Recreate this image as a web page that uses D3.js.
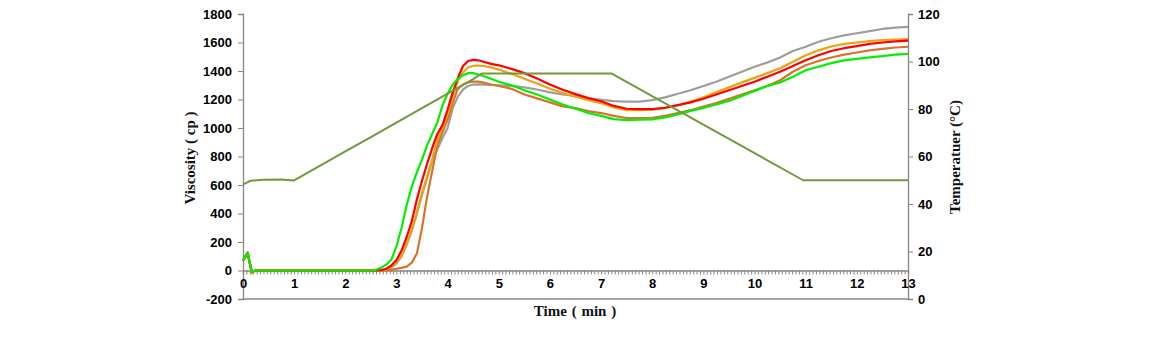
<!DOCTYPE html>
<html>
<head>
<meta charset="utf-8">
<script src="https://cdn.jsdelivr.net/npm/d3@7"></script>
<style>
  body { margin: 0; background: #fff; }
  svg { display: block; }
  .tick text { font-family: "Liberation Sans", Arial, sans-serif; font-weight: bold; font-size: 13px; fill: #000; }
  .title { font-family: "Liberation Serif", "Times New Roman", serif; font-weight: bold; font-size: 15px; fill: #111; }
</style>
</head>
<body>
<div id="chart"></div>
<script>
// time (min) shared by the viscosity curves
const time = [0, 0.09, 0.17, 0.25, 0.5, 1, 1.5, 2, 2.5, 2.6, 2.7, 2.8, 2.9,
  3.0, 3.1, 3.2, 3.3, 3.4, 3.5, 3.6, 3.7, 3.8, 3.9, 4.0, 4.1, 4.2, 4.3, 4.4, 4.5, 4.6, 4.7,
  4.85, 5.0, 5.25, 5.5, 5.75, 6.0, 6.25, 6.5, 6.75, 7.0, 7.25, 7.5, 7.75, 8.0, 8.25, 8.5,
  8.75, 9.0, 9.25, 9.5, 9.75, 10.0, 10.25, 10.5, 10.75, 11.0, 11.25, 11.5, 11.75, 12.0,
  12.25, 12.5, 12.75, 13.0];

// viscosity (cp)
const grayVisc = [70, 125, -8, 0, 0, 0, 0, 0, 0, 0, 0, 5, 20,
  50, 100, 180, 280, 400, 530, 650, 770, 850, 930, 1000, 1140, 1220, 1270, 1295, 1305, 1306, 1304,
  1302, 1300, 1295, 1285, 1270, 1250, 1235, 1225, 1210, 1198, 1188, 1185, 1185, 1196, 1215, 1240,
  1265, 1295, 1325, 1360, 1395, 1430, 1460, 1495, 1540, 1570, 1605, 1630, 1650, 1665,
  1680, 1695, 1705, 1710];
const brownVisc = [70, 125, -8, 0, 0, 0, 0, 0, 0, 0, 0, 2, 5,
  12, 18, 27, 55, 120, 300, 520, 700, 880, 970, 1060, 1180, 1275, 1305, 1320, 1325, 1325, 1318,
  1305, 1295, 1275, 1235, 1208, 1180, 1152, 1140, 1118, 1105, 1085, 1070, 1070, 1072, 1085, 1105,
  1125, 1150, 1175, 1205, 1235, 1265, 1295, 1335, 1395, 1440, 1470, 1495, 1515, 1530,
  1545, 1555, 1565, 1570];
const orangeVisc = [70, 125, -20, 0, 0, 0, 0, 0, 0, 0, 2, 8, 25,
  60, 105, 190, 285, 410, 545, 660, 780, 920, 1000, 1095, 1215, 1330, 1390, 1425, 1437, 1438, 1435,
  1425, 1410, 1380, 1345, 1312, 1275, 1245, 1220, 1195, 1175, 1145, 1125, 1125, 1128, 1140, 1160,
  1185, 1215, 1250, 1285, 1320, 1352, 1385, 1420, 1465, 1510, 1545, 1572, 1590, 1600,
  1610, 1616, 1621, 1624];
const redVisc = [70, 125, -8, 0, 0, 0, 0, 0, 0, 0, 3, 12, 35,
  74, 140, 235, 345, 500, 630, 750, 860, 960, 1020, 1130, 1250, 1350, 1435, 1470, 1478, 1475, 1465,
  1450, 1440, 1415, 1385, 1348, 1305, 1268, 1238, 1210, 1188, 1155, 1135, 1132, 1132, 1142, 1160,
  1180, 1205, 1235, 1265, 1295, 1325, 1360, 1395, 1435, 1475, 1510, 1540, 1560, 1575,
  1590, 1600, 1608, 1613];
const greenVisc = [70, 125, -8, 0, 0, 0, 0, 0, 0, 5, 20, 40, 75,
  170, 300, 460, 590, 690, 780, 880, 960, 1040, 1160, 1240, 1305, 1345, 1370, 1385, 1385, 1375, 1365,
  1345, 1325, 1300, 1265, 1235, 1200, 1165, 1135, 1105, 1085, 1062, 1055, 1058, 1060, 1075, 1095,
  1120, 1140, 1165, 1190, 1225, 1260, 1295, 1320, 1360, 1405, 1430, 1455, 1475, 1485,
  1495, 1505, 1515, 1520];

// temperature profile (°C)
const tempTime = [0, 0.15, 0.4, 0.75, 1.0, 1.5, 2.0, 2.5, 3.0, 3.5, 4.0, 4.5, 4.67, 7.2, 10.95, 13];
const tempVal = [48.3, 49.8, 50.2, 50.3, 49.9, 56.1, 62.2, 68.2, 74.3, 80.4, 86.5, 92.6, 95, 95, 50, 50];

const viscTicks = d3.range(-200, 1801, 200);
const tempTicks = d3.range(0, 121, 20);

const series = [
  { values: grayVisc, color: "#9d9d9d" },
  { values: brownVisc, color: "#d8722c" },
  { values: orangeVisc, color: "#e8a412" },
  { values: redVisc, color: "#ff0000" },
  { values: greenVisc, color: "#00f000" }
];

const W = 1154, H = 343;
const plotL = 243, plotR = 908, plotT = 14, plotB = 299;

const svg = d3.select("#chart").append("svg").attr("width", W).attr("height", H);

const x = d3.scaleLinear().domain([0, 13]).range([plotL, plotR]);
const yV = d3.scaleLinear().domain([-200, 1800]).range([plotB, plotT]);
const yT = d3.scaleLinear().domain([0, 120]).range([plotB, plotT]);

const axisColor = "#868686";
const plain = d => String(d);

// left axis
const gL = svg.append("g").attr("transform", `translate(${plotL},0)`)
  .call(d3.axisLeft(yV).tickValues(viscTicks).tickFormat(plain)
    .tickSizeOuter(0).tickSize(5).tickPadding(6));
// right axis
const gR = svg.append("g").attr("transform", `translate(${plotR},0)`)
  .call(d3.axisRight(yT).tickValues(tempTicks).tickFormat(plain)
    .tickSizeOuter(0).tickSize(5).tickPadding(5));

// x axis on the zero line, minor ticks every 4 s
const minor = d3.range(0, 196).map(i => i / 15);
const gX = svg.append("g").attr("transform", `translate(0,${yV(0)})`)
  .call(d3.axisBottom(x).tickValues(minor).tickSizeOuter(0).tickSize(4).tickPadding(4)
    .tickFormat((d, i) => i % 15 === 0 ? String(i / 15) : ""));

[gL, gR, gX].forEach(g => {
  g.select(".domain").attr("stroke", axisColor).attr("stroke-width", 1.3);
  g.selectAll(".tick line").attr("stroke", axisColor);
});

// bottom edge line
svg.append("line")
  .attr("x1", plotL).attr("x2", plotR).attr("y1", plotB).attr("y2", plotB)
  .attr("stroke", axisColor).attr("stroke-width", 1.3);

// viscosity curves
const line = d3.line().x((d, i) => x(time[i])).y(d => yV(d));
series.forEach(s => {
  svg.append("path")
    .datum(s.values)
    .attr("fill", "none")
    .attr("stroke", s.color)
    .attr("stroke-width", 2.2)
    .attr("stroke-linejoin", "round")
    .attr("d", line);
});

// temperature
const tLine = d3.line().x((d, i) => x(tempTime[i])).y(d => yT(d));
svg.append("path")
  .datum(tempVal)
  .attr("fill", "none")
  .attr("stroke", "#6e9a3c")
  .attr("stroke-width", 2)
  .attr("stroke-linejoin", "round")
  .attr("d", tLine);

// titles
svg.append("text").attr("class", "title")
  .attr("transform", `translate(195,158) rotate(-90)`)
  .attr("text-anchor", "middle")
  .text("Viscosity ( cp )");
svg.append("text").attr("class", "title")
  .attr("transform", `translate(960,157) rotate(-90)`)
  .attr("text-anchor", "middle")
  .text("Temperatuer (°C)");
svg.append("text").attr("class", "title")
  .attr("x", 575).attr("y", 316)
  .attr("text-anchor", "middle")
  .attr("word-spacing", "1px")
  .text("Time ( min )");
</script>
</body>
</html>
